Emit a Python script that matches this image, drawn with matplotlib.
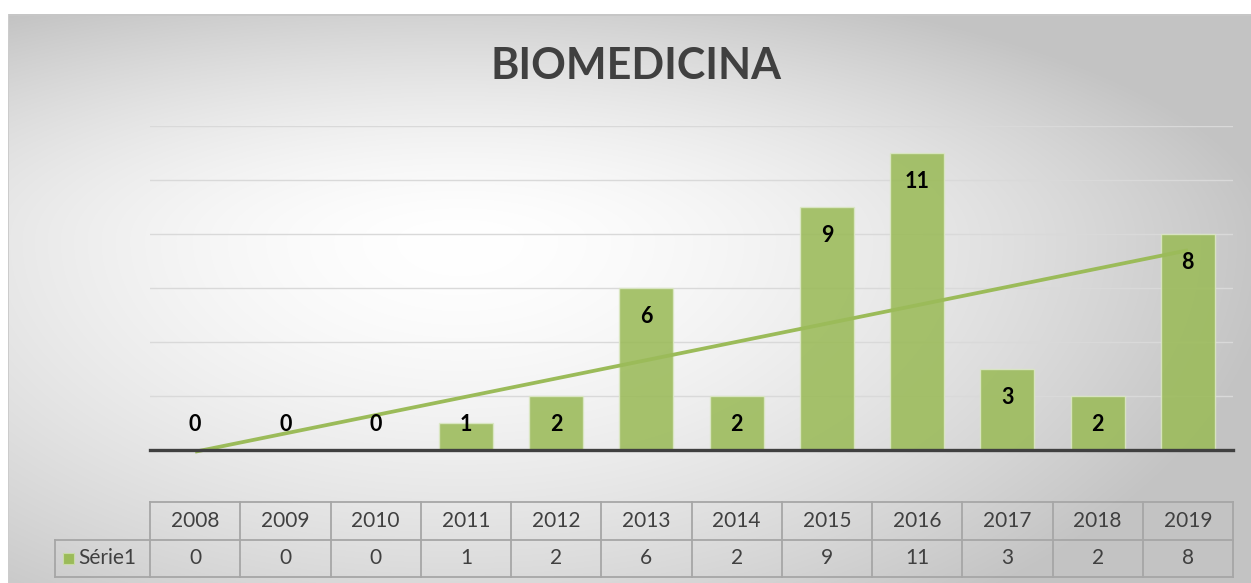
import numpy as np
import matplotlib
matplotlib.use("Agg")
import matplotlib.pyplot as plt
import matplotlib.transforms as mtransforms
from matplotlib.patches import Rectangle

# chart data
years = ['2008', '2009', '2010', '2011', '2012', '2013',
         '2014', '2015', '2016', '2017', '2018', '2019']
values = [0, 0, 0, 1, 2, 6, 2, 9, 11, 3, 2, 8]
series_name = 'Série1'
title = 'BIOMEDICINA'

GREEN = '#9BBB59'
DARK = '#404040'
plt.rcParams['font.family'] = ['Lato', 'DejaVu Sans']

W, H = 1251, 583
fig = plt.figure(figsize=(W / 100, H / 100), dpi=100)
fig.patch.set_facecolor('white')

# radial grey background of the chart panel
bg = fig.add_axes([0, 0, 1, 1], zorder=-10)
yy, xx = np.mgrid[0:H, 0:W]
ry = np.where(yy < 240, 270.0, 460.0)
d = np.sqrt(((xx - 460) / 820.0) ** 2 + ((yy - 240) / ry) ** 2)
shade = 255 - 60 * np.clip(d, 0, 1.0) ** 1.6
img = np.dstack([shade] * 3) / 255.0
img[:14, :, :] = 1.0
img[:, :8, :] = 1.0
img[14:16, 8:, :] = 0.78
img[14:, 8:9, :] = 0.80
bg.imshow(img, aspect='auto', interpolation='bilinear')
bg.axis('off')

ax = fig.add_axes([150 / W, 1 - 450 / H, 1083 / W, 324 / H])
ax.set_facecolor('none')
x = np.arange(len(years))

ax.set_xlim(-0.5, len(years) - 0.5)
ax.set_ylim(0, 12)
for g in range(2, 13, 2):
    ax.axhline(g, color='#D9D9D9', lw=1.0, zorder=0)

ax.bar(x, values, width=0.6, color=GREEN, alpha=0.88,
       edgecolor='#DCE8C6', linewidth=1.0, zorder=2)

# linear trendline
slope, icpt = np.polyfit(x, values, 1)
ax.plot(x, slope * x + icpt, color=GREEN, lw=2.7, zorder=3,
        solid_capstyle='butt', clip_on=False)

ax.axhline(0, color=DARK, lw=2.4, zorder=4, clip_on=False)

for xi, v in zip(x, values):
    ax.text(xi, max(v - 1.05, 0.95), str(v), ha='center', va='center',
            fontsize=15.5, fontweight='bold', color='black', zorder=5)

ax.set_xticks([])
ax.set_yticks([])
for s in ax.spines.values():
    s.set_visible(False)

fig.text(636 / W, 1 - 66 / H, title, ha='center', va='center',
         fontsize=31, fontweight='bold', color=DARK)

# data table under the plot
tr = mtransforms.blended_transform_factory(ax.transData, fig.transFigure)
y_top, y_mid, y_bot = 1 - 502 / H, 1 - 540 / H, 1 - 577 / H
lc = '#A6A6A6'
lw = 1.3
x_left = -0.5 - 95 / 90.25
n = len(years)
ax.plot([-0.5, n - 0.5], [y_top, y_top], color=lc, lw=lw, transform=tr, clip_on=False)
ax.plot([x_left, n - 0.5], [y_mid, y_mid], color=lc, lw=lw, transform=tr, clip_on=False)
ax.plot([x_left, n - 0.5], [y_bot, y_bot], color=lc, lw=lw, transform=tr, clip_on=False)
ax.plot([x_left, x_left], [y_mid, y_bot], color=lc, lw=lw, transform=tr, clip_on=False)
for k in range(n + 1):
    ax.plot([k - 0.5, k - 0.5], [y_top, y_bot], color=lc, lw=lw,
            transform=tr, clip_on=False)
for xi, yr, v in zip(x, years, values):
    ax.text(xi, (y_top + y_mid) / 2, yr, ha='center', va='center',
            fontsize=15, color=DARK, transform=tr)
    ax.text(xi, (y_mid + y_bot) / 2, str(v), ha='center', va='center',
            fontsize=15, color=DARK, transform=tr)

fig.patches.append(Rectangle((63 / W, 1 - 564 / H), 11 / W, 11 / H,
                             transform=fig.transFigure, facecolor=GREEN,
                             edgecolor='#C8DBA5', lw=0.8))
fig.text(78 / W, (y_mid + y_bot) / 2, series_name, ha='left', va='center',
         fontsize=15, color=DARK)

fig.savefig('out.png', dpi=100)
